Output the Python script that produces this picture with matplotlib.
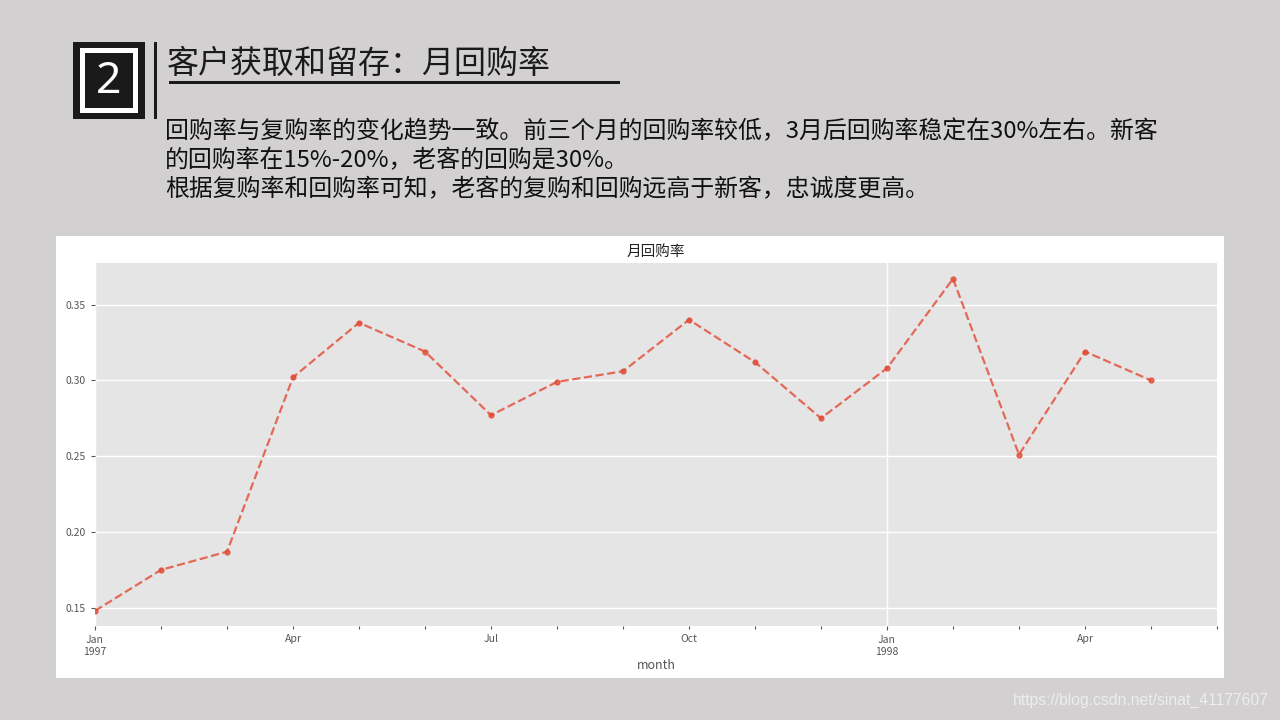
import matplotlib
matplotlib.use("Agg")
import matplotlib.pyplot as plt
import matplotlib.patches as mpatches
import pandas as pd

# ---------------- data ----------------
months = ["1997-01", "1997-02", "1997-03", "1997-04", "1997-05", "1997-06",
          "1997-07", "1997-08", "1997-09", "1997-10", "1997-11", "1997-12",
          "1998-01", "1998-02", "1998-03", "1998-04", "1998-05"]
repurchase_rate = [0.148, 0.175, 0.187, 0.302, 0.338, 0.319,
                   0.277, 0.299, 0.306, 0.340, 0.312, 0.275,
                   0.308, 0.367, 0.251, 0.319, 0.300]
axis_end_month = "1998-06"
major_labels = {"1997-01": "Jan\n1997", "1998-01": "Jan\n1998"}
minor_labels = {"1997-04": "Apr", "1997-07": "Jul", "1997-10": "Oct", "1998-04": "Apr"}
yticks = [0.15, 0.20, 0.25, 0.30, 0.35]

header_title = "客户获取和留存：月回购率"
para_lines = ["回购率与复购率的变化趋势一致。前三个月的回购率较低，3月后回购率稳定在30%左右。新客",
              "的回购率在15%-20%，老客的回购是30%。",
              "根据复购率和回购率可知，老客的复购和回购远高于新客，忠诚度更高。"]
chart_title = "月回购率"
xlabel = "month"
watermark = "https://blog.csdn.net/sinat_41177607"

# ---------------- style ----------------
plt.style.use("ggplot")
CJK = ["Noto Sans CJK SC", "DejaVu Sans"]
plt.rcParams["font.family"] = CJK

W, H = 1280, 720
fig = plt.figure(figsize=(W / 100, H / 100), dpi=100)
fig.patch.set_facecolor("#d2d0d1")

def fx(x):
    return x / W

def fy(y):
    return 1 - y / H

def rect(x0, y0, x1, y1, color, z=1):
    r = mpatches.Rectangle((fx(x0), fy(y1)), fx(x1) - fx(x0), fy(y0) - fy(y1),
                           transform=fig.transFigure, facecolor=color,
                           edgecolor="none", zorder=z)
    fig.add_artist(r)

# header box "2"
rect(73, 42, 145, 119, "#1a1a1a", 1)
rect(80, 48, 138, 113, "#ffffff", 2)
rect(85, 53, 133, 108, "#1a1a1a", 3)
fig.text(fx(109), fy(82), "2", color="white", fontsize=32, fontweight="light",
         family=["Noto Sans", "DejaVu Sans"], ha="center", va="center", zorder=4)
# vertical bar
rect(154, 42, 157, 119, "#1a1a1a", 1)

# header title + underline
fig.text(fx(167), fy(64), header_title, fontsize=23, color="#1a1a1a", fontweight="light",
         ha="left", va="center", family=CJK)
rect(169, 81, 620, 84, "#1a1a1a", 1)

# paragraph
for i, line in enumerate(para_lines):
    fig.text(fx(165), fy(132 + 29 * i), line, fontsize=17.2, color="#111111",
             fontweight="light", ha="left", va="center", family=CJK)

# white panel
rect(56, 236, 1224, 678, "#ffffff", 0)

# ---------------- chart ----------------
ax = fig.add_axes([fx(95), fy(626), fx(1217) - fx(95), fy(262.7) - fy(626)])
ax.set_zorder(5)

periods = pd.PeriodIndex(months, freq="M")
start = periods[0]
xs = [(p - start).n for p in periods]
end_x = (pd.Period(axis_end_month, freq="M") - start).n

ax.plot(xs, repurchase_rate, linestyle="--", marker="o", markersize=3.5,
        color="#E24A33", linewidth=1.6, alpha=0.8)

ax.set_xlim(0, end_x)
ax.set_ylim(0.138, 0.3776)
ax.set_yticks(yticks)
ax.set_yticklabels(["%.2f" % v for v in yticks])

maj_pos = [(pd.Period(k, freq="M") - start).n for k in major_labels]
ax.set_xticks(maj_pos)
ax.set_xticklabels(list(major_labels.values()))
all_pos = list(range(0, end_x + 1))
ax.set_xticks(all_pos, minor=True)
minor_map = {(pd.Period(k, freq="M") - start).n: v for k, v in minor_labels.items()}
ax.set_xticklabels([minor_map.get(p, "") for p in all_pos], minor=True)

ax.grid(True, which="major", color="white", linewidth=1.0)
ax.grid(False, which="minor")
ax.tick_params(axis="both", which="both", labelsize=7.5, colors="#555555",
               labelcolor="#555555", length=3, width=0.8)
ax.tick_params(axis="x", which="minor", length=2)
ax.set_title(chart_title, fontsize=10.5, color="#222222", pad=5)
ax.set_xlabel(xlabel, fontsize=9, color="#555555", labelpad=2)
for s in ax.spines.values():
    s.set_visible(False)

# watermark
fig.text(fx(1269), fy(700), watermark, fontsize=11.3, color="#ededed",
         ha="right", va="center", family=["Liberation Sans", "DejaVu Sans"])

fig.savefig("out.png", dpi=100, facecolor=fig.get_facecolor())
